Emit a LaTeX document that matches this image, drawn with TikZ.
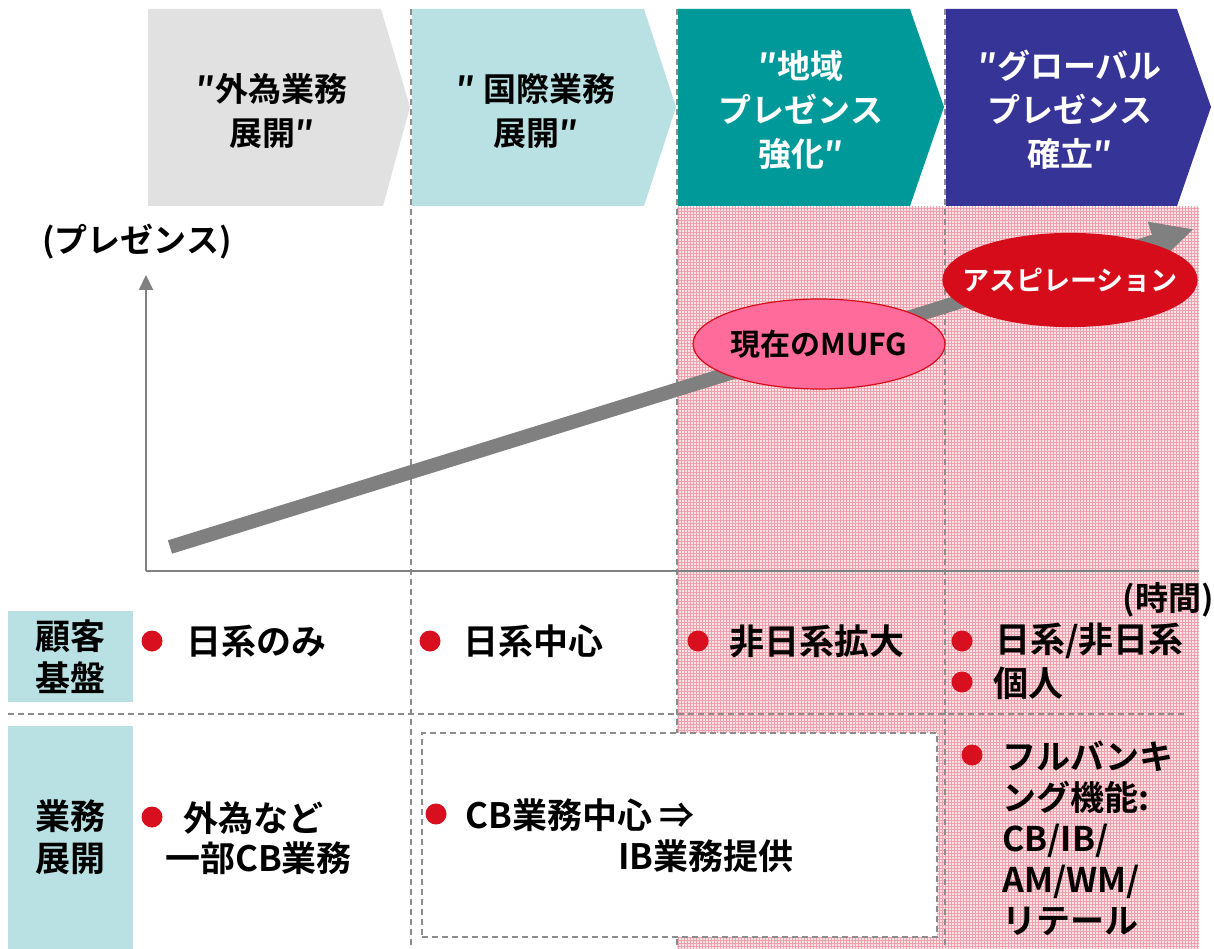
\documentclass[tikz,border=0pt]{standalone}
\usepackage{fontspec}
\setmainfont{Noto Sans CJK JP}[BoldFont={Noto Sans CJK JP Bold}]
\usetikzlibrary{arrows.meta,shapes.geometric,patterns}
\definecolor{chgray}{RGB}{225,225,225}
\definecolor{chlblue}{RGB}{185,224,227}
\definecolor{chteal}{RGB}{0,153,153}
\definecolor{chnavy}{RGB}{54,53,151}
\definecolor{pinkbg}{RGB}{251,228,231}
\definecolor{pinkgrid}{RGB}{240,160,170}
\definecolor{axisgray}{RGB}{128,128,128}
\definecolor{dashgray}{RGB}{140,140,140}
\definecolor{bulletred}{RGB}{215,15,30}
\definecolor{nowpink}{RGB}{255,108,155}
\definecolor{aspred}{RGB}{214,12,26}
\begin{document}
\begin{tikzpicture}[x=1pt,y=-1pt,
  hdr/.style={font=\fontsize{33}{44}\selectfont\bfseries, align=center, inner sep=0},
  body/.style={font=\fontsize{35}{41}\selectfont\bfseries, anchor=west, inner sep=0},
  rowhdr/.style={fill=chlblue, font=\fontsize{35}{42}\selectfont\bfseries, align=center, inner sep=0},
  dot/.style={circle, fill=bulletred, minimum size=21, inner sep=0},
  sep/.style={dashgray, line width=1.4, dash pattern=on 6pt off 4pt},
  axis/.style={axisgray, line width=2},
  oval/.style={ellipse, draw=aspred, line width=1.2, inner sep=0},
  lbl/.style={font=\fontsize{33}{40}\selectfont\bfseries, inner sep=0}]
\useasboundingbox (0,0) rectangle (1214,949);
\fill[white] (0,0) rectangle (1214,949);
% pink region
\fill[pinkbg] (677,207) rectangle (1199,949);
\fill[pattern=grid, pattern color=pinkgrid] (677,207) rectangle (1199,949);
% separators
\draw[sep] (411,9) -- (411,949);
\draw[sep] (677,9) -- (677,949);
\draw[sep] (945,9) -- (945,949);
\draw[sep] (8,714) -- (1187,714);
% white dashed box
\node[draw=dashgray, fill=white, line width=1.4, dash pattern=on 6pt off 4pt,
  minimum width=515, minimum height=204, inner sep=0] (cbbox) at (679.5,835) {};
% axes
\coordinate (orig) at (146,571);
\coordinate (ytop) at (146,275);
\coordinate (xend) at (1199,571);
\draw[axis, -{Triangle[length=15pt,width=14pt]}] (orig) -- (ytop);
\draw[axis] (orig) -- (xend);
% growth arrow
\coordinate (arrS) at (170,547);
\coordinate (arrE) at (1194,229);
\draw[axisgray, line width=14, -{Triangle[length=42pt,width=38pt]}] (arrS) -- (arrE);
% ellipses
\node[oval, fill=nowpink, minimum width=252, minimum height=90] (now) at (819,344) {};
\node[font=\fontsize{30}{30}\selectfont\bfseries, inner sep=0] (nowt) at (now.center) {現在のMUFG};
\node[oval, fill=aspred, minimum width=254, minimum height=93] (asp) at (1070,280) {};
\node[text=white, font=\fontsize{27}{27}\selectfont\bfseries, inner sep=0] (aspt) at (asp.center) {アスピレーション};
% chevrons
\fill[chgray] (148,9) -- (381,9) -- (410,107) -- (383,206) -- (148,206) -- cycle;
\fill[chlblue] (412,9) -- (644,9) -- (676,107) -- (644,206) -- (412,206) -- cycle;
\fill[chteal] (678,9) -- (910,9) -- (944,107) -- (910,206) -- (678,206) -- cycle;
\fill[chnavy] (946,9) -- (1177,9) -- (1211,107) -- (1177,206) -- (946,206) -- cycle;
\node[hdr] (h1) at (272,111) {″外為業務\\展開″};
\node[hdr] (h2) at (536,111) {″ 国際業務\\展開″};
\node[hdr, text=white] (h3) at (801,110) {″地域\\プレゼンス\\強化″};
\node[hdr, text=white] (h4) at (1070,110) {″グローバル\\プレゼンス\\確立″};
% axis labels
\node[lbl, anchor=west] (ylab) at (42,242) {(プレゼンス)};
\node[lbl, anchor=east] (xlab) at (1214,600) {(時間)};
% row headers
\node[rowhdr, minimum width=125, minimum height=91] (r1) at (70.5,656.5) {顧客\\基盤};
\node[rowhdr, minimum width=125, minimum height=223] (r2) at (70.5,837.5) {業務\\展開};
% bullets and texts row 1
\node[dot] (d1) at (152,641) {};
\node[body] (t1) at (186,641) {日系のみ};
\node[dot] (d2) at (430,641) {};
\node[body] (t2) at (463,641) {日系中心};
\node[dot] (d3) at (698,641) {};
\node[body] (t3) at (729,641) {非日系拡大};
\node[dot] (d4) at (962,641) {};
\node[body] (t4) at (995,641) {日系/非日系};
\node[dot] (d5) at (962,682) {};
\node[body] (t5) at (993,683) {個人};
% row 2
\node[dot] (d6) at (152,817) {};
\node[body] (t6a) at (183,818) {外為など};
\node[body] (t6b) at (165,858) {一部CB業務};
\node[dot] (d7) at (436,814) {};
\node[body] (t7a) at (465,815) {CB業務中心 ⇒};
\node[body] (t7b) at (618,856) {IB業務提供};
\node[dot] (d8) at (972,755) {};
\node[body, align=left, font=\fontsize{34}{41}\selectfont\bfseries] (t8) at (1002,838)
  {フルバンキ\\ング機能:\\CB/IB/\\AM/WM/\\リテール};
\end{tikzpicture}
\end{document}
